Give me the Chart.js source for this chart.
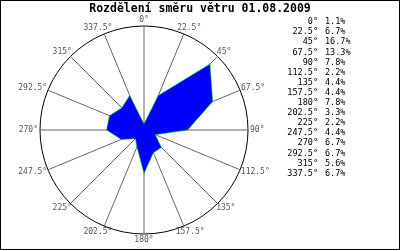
<!DOCTYPE html>
<html>
<head>
<meta charset="utf-8">
<script src="https://cdn.jsdelivr.net/npm/chart.js@4.4.1/dist/chart.umd.min.js"></script>
<style>
  body { margin: 0; background: #fff; }
  canvas { display: block; }
</style>
</head>
<body>
<canvas id="windChart" width="400" height="250"></canvas>
<script>
let title_text = "Rozdělení směru větru 01.08.2009";
let dir_labels = ["0°", "22.5°", "45°", "67.5°", "90°", "112.5°", "135°", "157.5°",
                  "180°", "202.5°", "225°", "247.5°", "270°", "292.5°", "315°", "337.5°"];
let dir_values = [1.1, 6.7, 16.7, 13.3, 7.8, 2.2, 4.4, 4.4, 7.8, 3.3, 2.2, 4.4, 6.7, 6.7, 5.6, 6.7];
let scale_max = 18.6;

let mono = "'DejaVu Sans Mono', 'Liberation Mono', monospace";

// popisky směrů, titulek, legenda vpravo a rámeček
const windDecor = {
	id: 'windDecor',
	afterDraw(chart) {
		const ctx = chart.ctx;
		const r = chart.scales.r;
		ctx.save();

		ctx.font = "8px " + mono;
		ctx.fillStyle = "#555";
		ctx.textAlign = "center";
		ctx.textBaseline = "middle";
		for (let i = 0; i < dir_labels.length; i++) {
			const p = r.getPointPosition(i, r.drawingArea);
			const a = r.getIndexAngle(i) - Math.PI / 2;
			const w = ctx.measureText(dir_labels[i]).width;
			const x = p.x + Math.cos(a) * (w / 2 + 2);
			const y = p.y + Math.sin(a) * (4 + 2);
			ctx.fillText(dir_labels[i], x, y);
		}

		ctx.fillStyle = "#000";
		ctx.font = "bold 11.5px " + mono;
		ctx.fillText(title_text, 200, 9);

		ctx.font = "8.5px " + mono;
		for (let i = 0; i < dir_labels.length; i++) {
			let y = 22 + i * 10.1;
			ctx.textAlign = "right";
			ctx.fillText(dir_labels[i], 318, y);
			ctx.textAlign = "left";
			ctx.fillText(dir_values[i].toFixed(1) + "%", 325, y);
		}

		ctx.strokeStyle = "#000";
		ctx.lineWidth = 1;
		ctx.strokeRect(0.5, 0.5, chart.width - 1, chart.height - 1);
		ctx.restore();
	}
};

const ctx = document.getElementById('windChart').getContext('2d');
const myChart = new Chart(ctx, {
	type: 'radar',
	data: {
		labels: dir_labels,
		datasets: [{
			data: dir_values,
			backgroundColor: "#0000ff",
			borderColor: "#00dd00",
			borderWidth: 0.6,
			pointRadius: 0,
			fill: 'shape'
		}]
	},
	options: {
		responsive: false,
		animation: false,
		layout: { padding: { left: 40, right: 152, top: 26, bottom: 16 } },
		plugins: {
			legend: { display: false },
			tooltip: { enabled: false }
		},
		scales: {
			r: {
				min: 0,
				max: scale_max,
				ticks: { display: false, stepSize: scale_max },
				pointLabels: { display: false },
				angleLines: { color: "#666", lineWidth: 1 },
				grid: { circular: true, color: "#000", lineWidth: 1 }
			}
		}
	},
	plugins: [windDecor]
});
</script>
</body>
</html>
